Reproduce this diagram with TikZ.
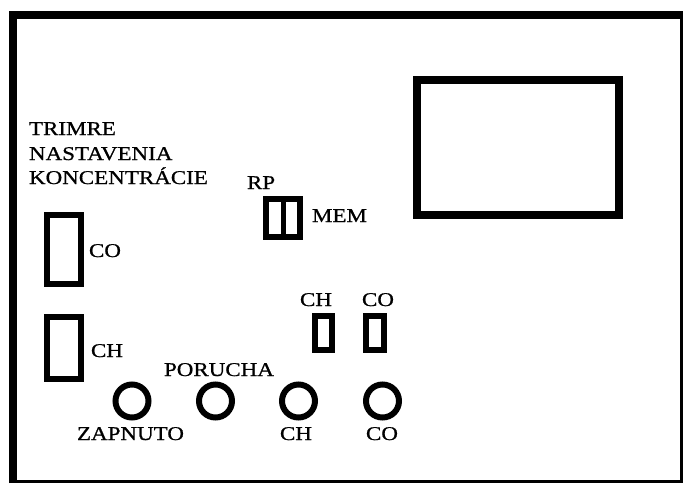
\documentclass[tikz,border=0pt]{standalone}
\usepackage{fontspec}
\setmainfont{Liberation Serif}
\newfontfamily\lblfont[FakeStretch=1.18,FakeBold=0.8]{Liberation Serif}
\tikzset{
  lbl/.style={font=\lblfont\fontsize{19.5}{22}\selectfont, inner sep=0pt, outer sep=0pt, anchor=base west},
  trimbox/.style={draw, line width=6pt, inner sep=0pt, outer sep=0pt, rectangle},
  lamp/.style={draw, circle, line width=6pt, inner sep=0pt, outer sep=0pt, minimum size=33pt},
  screen/.style={draw, line width=8pt, inner sep=0pt, outer sep=0pt, rectangle, minimum width=202pt, minimum height=135pt},
}
\begin{document}
\begin{tikzpicture}[x=1pt,y=-1pt]
\useasboundingbox (0,0) rectangle (683,483);
\fill[white] (0,0) rectangle (683,483);
% frame
\draw[line width=8pt] (13,483) -- (13,15) -- (683,15);
\draw[line width=3pt] (681.5,15) -- (681.5,481.5) -- (13,481.5);
% display
\node[screen] (disp) at (518,147.5) {};
% labels
\node[lbl] (t1) at (29,135) {TRIMRE};
\node[lbl] (t2) at (29,160) {NASTAVENIA};
\node[lbl] (t3) at (29,184) {KONCENTRÁCIE};
% trimmers
\node[trimbox, minimum width=34pt, minimum height=69pt] (tco) at (64,249.5) {};
\node[lbl] (ltco) at (89,257) {CO};
\node[trimbox, minimum width=34pt, minimum height=62pt] (tch) at (64,348) {};
\node[lbl] (ltch) at (91,357) {CH};
% RP / MEM switch
\node[trimbox, minimum width=34pt, minimum height=38pt] (rp) at (283,218) {};
\draw[line width=5pt] (rp.north) -- (rp.south);
\node[lbl] (lrp) at (247,189) {RP};
\node[lbl] (lmem) at (312,222) {MEM};
% small switches
\node[trimbox, minimum width=17pt, minimum height=34pt] (sch) at (323.5,333) {};
\node[trimbox, minimum width=18pt, minimum height=34pt] (sco) at (375,333) {};
\node[lbl] (lsch) at (300,306) {CH};
\node[lbl] (lsco) at (362,306) {CO};
% lamps
\node[lamp] (l1) at (132,401) {};
\node[lamp] (l2) at (215.5,401) {};
\node[lamp] (l3) at (298.5,401) {};
\node[lamp] (l4) at (382.5,401) {};
\node[lbl] (ll1) at (77,440) {ZAPNUTO};
\node[lbl] (ll2) at (164,376) {PORUCHA};
\node[lbl] (ll3) at (280,440) {CH};
\node[lbl] (ll4) at (366,440) {CO};
\end{tikzpicture}
\end{document}
